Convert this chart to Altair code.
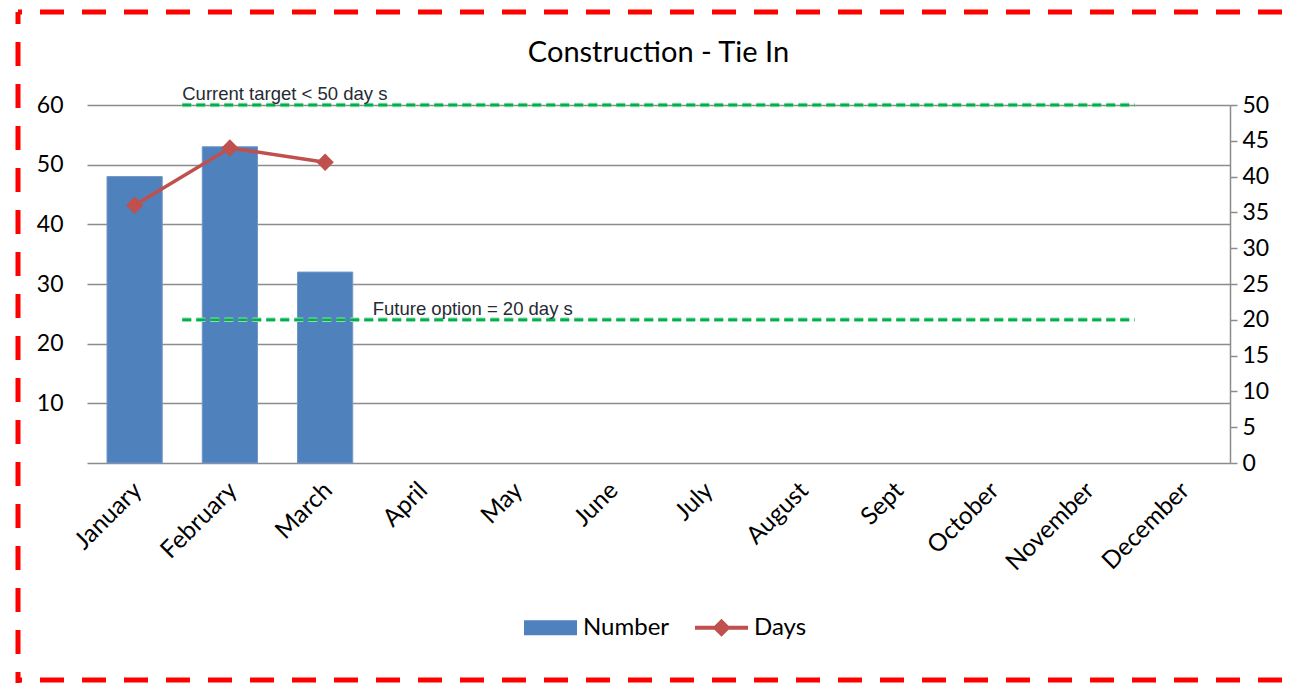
import altair as alt
import pandas as pd

# ---- data -------------------------------------------------------------
months = ["January", "February", "March", "April", "May", "June", "July",
          "August", "Sept", "October", "November", "December"]

number_months = ["January", "February", "March"]
number_values = [48, 53, 32]          # left axis (Number)
days_values = [36, 44, 42]            # right axis (Days)

target_labels = ["Current target < 50 day s", "Future option = 20 day s"]
target_values = [50, 20]
target_from = ["February", "February"]
target_to = ["December", "December"]
target_label_at = ["February", "April"]

legend_series = ["Number", "Days"]

# ---- styling -----------------------------------------------------------
BLUE = "#4F81BD"
RED = "#C0504D"
GREEN = "#00B050"
GRID = "#8C8C8C"
FONT = "Lato"

W, H = 1143, 358
PAD = {"left": 87, "top": 105, "right": 60, "bottom": 220}

bars_df = pd.DataFrame({"month": number_months, "number": number_values})
days_df = pd.DataFrame({"month": number_months, "days": days_values})
target_df = pd.DataFrame({
    "label": target_labels, "value": target_values,
    "start": target_from, "end": target_to, "label_at": target_label_at,
})
legend_df = pd.DataFrame({"series": legend_series})

x_scale = alt.Scale(domain=months, paddingInner=0, paddingOuter=0)
x_axis = alt.Axis(
    title=None, labelAngle=-45, labelFontSize=24.5, labelFont=FONT,
    labelColor="black", ticks=False, domainColor=GRID, domainWidth=1.5,
    labelPadding=15, labelOffset=-5,
)

# ---- left axis: bars ---------------------------------------------------
bars = alt.Chart(bars_df).mark_bar(
    width=alt.RelativeBandSize(0.58), color=BLUE, stroke="#7397C8", strokeWidth=1
).encode(
    x=alt.X("month:N", sort=months, scale=x_scale, axis=x_axis),
    y=alt.Y("number:Q", scale=alt.Scale(domain=[0, 60], nice=False),
            axis=alt.Axis(title=None, values=[10, 20, 30, 40, 50, 60],
                          grid=True, gridColor=GRID, gridWidth=1.5,
                          domain=False, ticks=False, tickSize=0,
                          labelPadding=24, labelFontSize=23, labelFont=FONT,
                          labelColor="black")),
)

# ---- right axis: days line, targets ------------------------------------
right_y_scale = alt.Scale(domain=[0, 50], nice=False)
right_axis = alt.Axis(orient="right", title=None,
                      values=list(range(0, 55, 5)), grid=False,
                      domain=True, domainColor=GRID, domainWidth=1.5,
                      ticks=True, tickColor=GRID, tickWidth=1.5,
                      tickSize=7, labelPadding=5, labelFontSize=23,
                      labelFont=FONT, labelColor="black")

days_line = alt.Chart(days_df).mark_line(color=RED, strokeWidth=3.5).encode(
    x=alt.X("month:N", sort=months, scale=x_scale, axis=x_axis),
    y=alt.Y("days:Q", scale=right_y_scale, axis=right_axis),
)

days_points = alt.Chart(days_df).mark_point(
    shape="diamond", filled=True, size=300, color=RED, opacity=1
).encode(
    x=alt.X("month:N", sort=months, scale=x_scale, axis=x_axis),
    y=alt.Y("days:Q", scale=right_y_scale, axis=right_axis),
)

target_glow = alt.Chart(target_df).mark_rule(
    color="#8FDDAA", strokeWidth=4.5, strokeDash=[9, 5]
).encode(
    x=alt.X("start:N", sort=months, scale=x_scale, bandPosition=0, axis=x_axis),
    x2=alt.X2("end:N", bandPosition=0),
    y=alt.Y("value:Q", scale=right_y_scale, axis=right_axis),
)

target_rules = alt.Chart(target_df).mark_rule(
    color=GREEN, strokeWidth=2.5, strokeDash=[9, 5]
).encode(
    x=alt.X("start:N", sort=months, scale=x_scale, bandPosition=0, axis=x_axis),
    x2=alt.X2("end:N", bandPosition=0),
    y=alt.Y("value:Q", scale=right_y_scale, axis=right_axis),
)

target_text = alt.Chart(target_df).mark_text(
    align="left", baseline="alphabetic", dy=-5, fontSize=18.5,
    font="Liberation Sans", color="#262A33"
).encode(
    x=alt.X("label_at:N", sort=months, scale=x_scale, bandPosition=0, axis=x_axis),
    y=alt.Y("value:Q", scale=right_y_scale, axis=right_axis),
    text="label:N",
)

right_group = alt.layer(target_glow, target_rules, target_text,
                        days_line, days_points)

# ---- legend ------------------------------------------------------------
rect_path = "M-1,-0.283H1V0.283H-1Z"
line_diamond_path = ("M-1,-0.075H1V0.075H-1Z "
                     "M0,-0.34L0.34,0L0,0.34L-0.34,0Z")

legend_def = alt.Legend(
    title=None, orient="none", legendX=437, legendY=496,
    direction="horizontal", symbolSize=2809, symbolStrokeWidth=0,
    symbolOpacity=1, labelFontSize=24, labelFont=FONT, labelColor="black",
    labelOffset=6, columnPadding=25, padding=0,
)

legend_layer = alt.Chart(legend_df).mark_point(filled=True, size=0).encode(
    x=alt.value(0), y=alt.value(0),
    color=alt.Color("series:N", scale=alt.Scale(domain=legend_series,
                                                range=[BLUE, RED]),
                    legend=legend_def),
    shape=alt.Shape("series:N", scale=alt.Scale(domain=legend_series,
                                                range=[rect_path, line_diamond_path]),
                    legend=legend_def),
)

# ---- dashed red frame around the whole figure ---------------------------
frame_df = pd.DataFrame({"edge": ["frame"]})
frame_style = dict(color="#FF0000", strokeWidth=5, strokeDash=[24, 18])
frame_left = alt.Chart(frame_df).mark_rule(**frame_style, strokeDashOffset=12).encode(
    x=alt.value(-69), y=alt.value(-93), y2=alt.value(580))
frame_top = alt.Chart(frame_df).mark_rule(**frame_style, strokeDashOffset=-22).encode(
    x=alt.value(-69), x2=alt.value(1210), y=alt.value(-93))
frame_bottom = alt.Chart(frame_df).mark_rule(**frame_style, strokeDashOffset=-22).encode(
    x=alt.value(-69), x2=alt.value(1210), y=alt.value(575))

chart = alt.layer(
    bars, right_group, legend_layer, frame_left, frame_top, frame_bottom
).resolve_scale(
    y="independent"
).properties(
    width=W, height=H,
    padding=PAD,
    autosize=alt.AutoSizeParams(type="none"),
    background="white",
    title=alt.TitleParams("Construction - Tie In", fontSize=29, font=FONT,
                          fontWeight="normal", color="black",
                          anchor="middle", frame="group", offset=-58),
).configure_view(stroke=None)

chart.save("out.html", embed_options={"renderer": "svg", "actions": False})
